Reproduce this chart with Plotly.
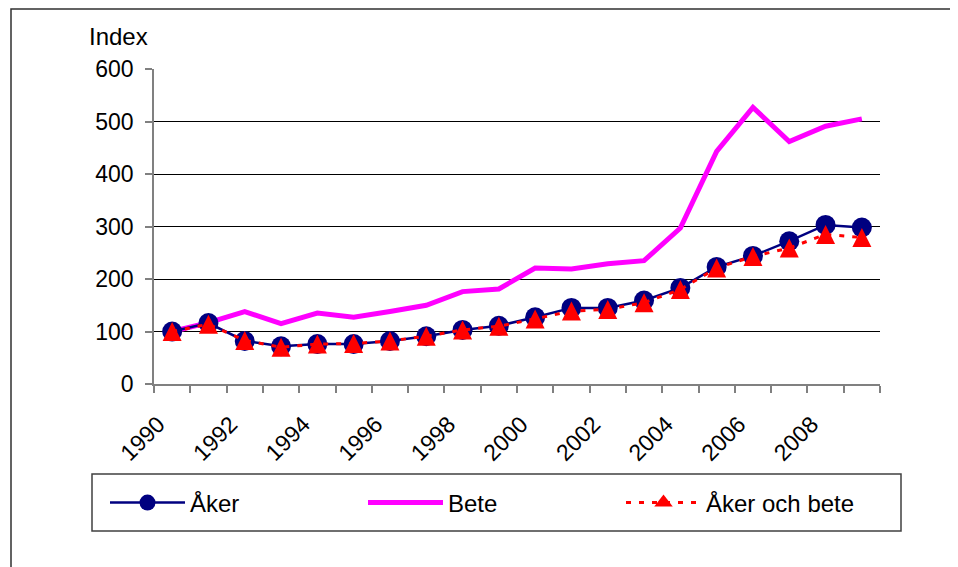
import plotly.graph_objects as go

years = list(range(1990, 2010))
aker = [100, 116, 82, 72, 76, 76, 82, 91, 103, 111, 127, 145, 145, 159, 183, 223, 244, 272, 303, 298]
bete = [100, 117, 138, 115, 135, 127, 138, 150, 176, 181, 221, 219, 229, 235, 297, 443, 527, 462, 491, 505]
aker_bete = [100, 114, 83, 70, 76, 77, 82, 91, 103, 110, 124, 139, 142, 155, 180, 221, 243, 259, 285, 279]
xtick_labels = [str(y) for y in range(1990, 2010, 2)]
ytick_vals = [0, 100, 200, 300, 400, 500, 600]

FONT = "Liberation Sans, Arial, sans-serif"
OFF = 8  # page body margin

# page-coordinate layout
L, R, T, B = 154 - OFF, 880 - OFF, 69 - OFF, 384 - OFF
W, H = 958 - OFF, 567 - OFF
pw, ph = R - L, B - T


def px(x):
    return (x - OFF - L) / pw


def py(y):
    return (B - (y - OFF)) / ph


RED_LINE = dict(color="#FF0000", width=3, dash="5px,8px")

fig = go.Figure()
fig.add_trace(go.Scatter(x=years, y=bete, name="Bete", mode="lines",
                         line=dict(color="#FF00FF", width=5), legendrank=2))
fig.add_trace(go.Scatter(x=years, y=aker, name="Åker", mode="lines+markers",
                         line=dict(color="#000080", width=2.5),
                         marker=dict(symbol="circle", size=20, color="#000080"), legendrank=1))
fig.add_trace(go.Scatter(x=years, y=aker_bete, name="Åker och bete", mode="lines+markers",
                         line=RED_LINE, showlegend=False,
                         marker=dict(symbol="arrow-down", angle=180, size=19, standoff=9.5,
                                     color="#FF0000", line=dict(width=0))))
# legend entry for the series above (draws nothing in the plot)
fig.add_trace(go.Scatter(x=[None], y=[None], name="Åker och bete", mode="lines+markers",
                         line=RED_LINE, legendrank=3,
                         marker=dict(symbol="triangle-up", size=19, color="#FF0000",
                                     line=dict(width=0))))

fig.update_layout(
    width=W, height=H,
    margin=dict(l=L, r=W - R, t=T, b=H - B, pad=0),
    paper_bgcolor="white", plot_bgcolor="white",
    font=dict(family=FONT, size=23, color="black"),
    showlegend=True,
    legend=dict(orientation="h", x=px(105), y=py(503), xanchor="left", yanchor="middle",
                bgcolor="rgba(0,0,0,0)", borderwidth=0, font=dict(size=24),
                entrywidth=168, itemwidth=75, traceorder="normal"),
    xaxis=dict(range=[1989.5, 2009.5], tickmode="array", tickvals=list(range(1990, 2010, 2)),
               ticktext=xtick_labels, tickangle=-45, ticks="", showgrid=False,
               showline=True, linecolor="#808080", linewidth=1.5, zeroline=False,
               tickfont=dict(size=23), ticklabelshift=-14, ticklabelstandoff=16,
               minor=dict(ticks="outside", tickmode="linear", tick0=1989.5, dtick=1,
                          ticklen=7, tickcolor="#808080", tickwidth=1.5, showgrid=False)),
    yaxis=dict(range=[0, 600], tickvals=ytick_vals, ticks="outside", ticklen=7,
               tickcolor="#808080", tickwidth=1.5, showgrid=True, gridcolor="black",
               gridwidth=1, showline=True, linecolor="#808080", linewidth=1.5,
               zeroline=False, tickfont=dict(size=23), ticklabelstandoff=7),
    shapes=[
        dict(type="rect", xref="paper", yref="paper", x0=px(92), x1=px(901),
             y0=py(531), y1=py(474), line=dict(color="#404040", width=1.5), layer="below"),
        dict(type="rect", xref="paper", yref="paper", x0=px(11), x1=px(1000),
             y0=py(640), y1=py(9), line=dict(color="#303030", width=1.5), layer="below"),
    ],
    annotations=[
        dict(text="Index", xref="paper", yref="paper", x=px(118), y=py(37),
             xanchor="center", yanchor="middle", showarrow=False, font=dict(size=24)),
    ],
)

fig.write_html("out.html")
